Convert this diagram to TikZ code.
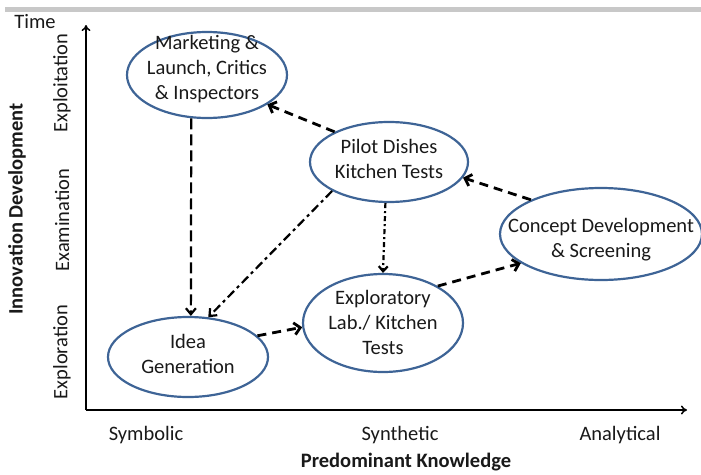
\documentclass[tikz,border=0pt]{standalone}
\usepackage{fontspec}
\setmainfont{Carlito}
\usetikzlibrary{shapes.geometric,arrows.meta}
\definecolor{ellblue}{RGB}{62,100,150}
\definecolor{barGray}{RGB}{200,200,200}
\definecolor{ink}{RGB}{25,25,25}
\newcommand\etext[2]{\smash{\makebox[0pt]{\raisebox{#1}{\begin{tabular}{@{}c@{}}#2\end{tabular}}}}}
\begin{document}
\begin{tikzpicture}[x=1pt,y=-1pt,
  every node/.style={font=\fontsize{20.5}{25}\selectfont, text=ink},
  stage/.style={ellipse, draw=ellblue, line width=2.2pt, inner sep=0pt},
  axis/.style={line width=1.5pt, -{To[length=6pt,width=9pt]}},
  flow/.style={line width=2.8pt, dash pattern=on 9pt off 6pt, -{Straight Barb[length=6pt,width=12pt]}},
  vdash/.style={line width=2.2pt, dash pattern=on 11pt off 5pt, -{Straight Barb[length=6pt,width=10pt]}},
  ddot/.style={line width=2.2pt, dash pattern=on 9pt off 4pt on 3pt off 4pt, -{Straight Barb[length=6pt,width=10pt]}},
  sdot/.style={line width=2.2pt, dash pattern=on 5pt off 3pt on 2pt off 3pt, -{Straight Barb[length=5pt,width=9pt]}},
  vlabel/.style={rotate=90}
]
\useasboundingbox (0,0) rectangle (701,474);
\fill[barGray] (5,7) rectangle (701,12);

% axes
\coordinate (O) at (86,410);
\coordinate (ytop) at (86,25);
\coordinate (xend) at (687,410);
\draw[axis] (O) -- (ytop);
\draw[axis] (O) -- (xend);

\node (time) at (35,22) {Time};
\node[vlabel, font=\fontsize{20.5}{25}\selectfont\bfseries] (ylab) at (17,209) {Innovation Development};
\node[vlabel] (exploit) at (62,83) {Exploitation};
\node[vlabel] (exam) at (62,220) {Examination};
\node[vlabel] (explor) at (62,352) {Exploration};

\node (sym) at (146,435) {Symbolic};
\node (syn) at (400,435) {Synthetic};
\node (ana) at (620,435) {Analytical};
\node[font=\fontsize{20.5}{25}\selectfont\bfseries] (xlab) at (406,462) {Predominant Knowledge};

% stages
\node[stage, minimum width=160pt, minimum height=86pt] (mkt) at (207,75)
  {\etext{0pt}{Marketing \&\\Launch, Critics\\\& Inspectors}};
\node[stage, minimum width=158pt, minimum height=80pt] (pilot) at (389,162)
  {\etext{-4pt}{Pilot Dishes\\Kitchen Tests}};
\node[stage, minimum width=202pt, minimum height=92pt] (concept) at (601,234)
  {\etext{-11pt}{Concept Development\\\& Screening}};
\node[stage, minimum width=160pt, minimum height=80pt] (idea) at (188,357)
  {\etext{-4pt}{Idea\\Generation}};
\node[stage, minimum width=160pt, minimum height=98pt] (expl) at (383,323)
  {\etext{-7pt}{Exploratory\\Lab./ Kitchen\\Tests}};

% connectors
\draw[flow] (pilot.151) -- (mkt.-26);
\draw[flow] (concept.154) -- (pilot.-12);
\draw[flow] (idea.17) -- (expl.183);
\draw[flow] (expl.34) -- (concept.200);
\draw[vdash] (mkt.-110) -- (idea.86);
\draw[ddot] (pilot.207) -- (idea.63);
\draw[sdot] (pilot.-95) -- (expl.90);
\end{tikzpicture}
\end{document}
